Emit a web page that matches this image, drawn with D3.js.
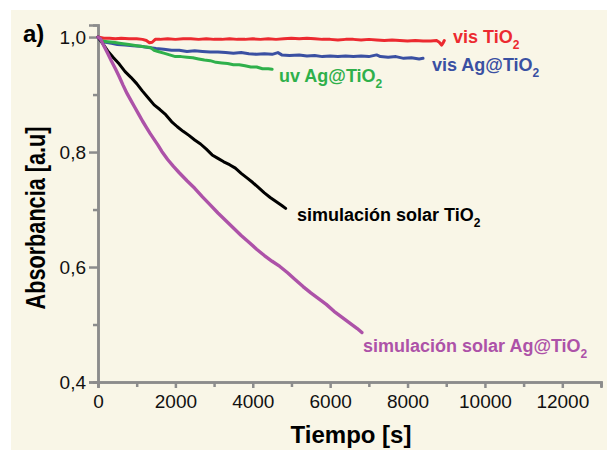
<!DOCTYPE html>
<html>
<head>
<meta charset="utf-8">
<script src="https://cdn.jsdelivr.net/npm/d3@7"></script>
<style>
  body { margin: 0; background: #fff; }
  svg text { font-family: "Liberation Sans", Arial, sans-serif; }
</style>
</head>
<body>
<div id="chart"></div>
<script>
// [tiempo (s), absorbancia]
var visTiO2 = [[0,1.000],[150,0.998],[300,0.998],[450,0.997],[600,0.998],[800,0.997],[1000,0.997],[1150,0.996],[1250,0.994],[1330,0.990],[1400,0.991],[1480,0.996],[1600,0.996],[1800,0.997],[2000,0.996],[2200,0.997],[2400,0.997],[2600,0.996],[2800,0.997],[3000,0.996],[3200,0.996],[3400,0.997],[3600,0.996],[3800,0.996],[4000,0.997],[4200,0.996],[4400,0.997],[4600,0.996],[4800,0.997],[5000,0.998],[5200,0.997],[5400,0.998],[5600,0.997],[5800,0.996],[6000,0.996],[6200,0.995],[6400,0.996],[6600,0.996],[6800,0.995],[7000,0.996],[7200,0.995],[7400,0.994],[7600,0.995],[7800,0.994],[8000,0.993],[8200,0.994],[8400,0.993],[8600,0.993],[8750,0.994],[8820,0.991],[8880,0.986],[8920,0.990],[8950,0.994]];
var visAgTiO2 = [[0,1.000],[60,0.994],[200,0.991],[350,0.989],[500,0.987],[700,0.986],[900,0.985],[1100,0.984],[1300,0.982],[1500,0.980],[1700,0.979],[1900,0.977],[2100,0.977],[2300,0.975],[2500,0.976],[2700,0.975],[2900,0.974],[3100,0.974],[3300,0.973],[3500,0.972],[3700,0.973],[3900,0.971],[4100,0.970],[4300,0.971],[4500,0.970],[4650,0.973],[4750,0.969],[4950,0.968],[5200,0.969],[5400,0.967],[5600,0.968],[5800,0.966],[6000,0.967],[6200,0.966],[6400,0.967],[6600,0.966],[6800,0.967],[7000,0.966],[7200,0.969],[7300,0.966],[7500,0.965],[7700,0.966],[7900,0.963],[8100,0.964],[8300,0.962],[8400,0.963]];
var uvAgTiO2 = [[0,1.000],[100,0.993],[250,0.992],[400,0.991],[600,0.989],[800,0.987],[1000,0.985],[1200,0.983],[1350,0.982],[1450,0.977],[1550,0.975],[1700,0.972],[1850,0.969],[2000,0.966],[2150,0.966],[2300,0.965],[2450,0.964],[2600,0.962],[2750,0.960],[2900,0.959],[3050,0.956],[3200,0.955],[3350,0.954],[3500,0.952],[3650,0.952],[3800,0.950],[3950,0.948],[4100,0.948],[4250,0.945],[4400,0.945],[4500,0.944]];
var solarTiO2 = [[0,1.000],[100,0.991],[250,0.976],[400,0.964],[550,0.953],[700,0.940],[850,0.930],[1000,0.919],[1150,0.906],[1300,0.894],[1450,0.882],[1600,0.874],[1750,0.865],[1900,0.853],[2050,0.844],[2200,0.836],[2350,0.829],[2500,0.821],[2650,0.814],[2800,0.805],[2950,0.795],[3100,0.789],[3250,0.783],[3400,0.778],[3550,0.772],[3700,0.763],[3850,0.755],[4000,0.747],[4150,0.738],[4300,0.729],[4450,0.721],[4600,0.714],[4750,0.707],[4850,0.702]];
var solarAgTiO2 = [[0,1.000],[60,0.997],[150,0.985],[250,0.972],[350,0.958],[450,0.945],[550,0.931],[650,0.916],[750,0.902],[850,0.890],[950,0.878],[1050,0.866],[1150,0.854],[1250,0.843],[1350,0.832],[1450,0.822],[1550,0.812],[1650,0.801],[1800,0.787],[1950,0.775],[2100,0.764],[2300,0.750],[2500,0.737],[2700,0.722],[2900,0.708],[3100,0.694],[3300,0.681],[3500,0.668],[3700,0.655],[3900,0.643],[4100,0.631],[4300,0.620],[4500,0.610],[4700,0.601],[4900,0.590],[5100,0.578],[5300,0.566],[5500,0.555],[5700,0.545],[5900,0.535],[6100,0.523],[6300,0.513],[6500,0.503],[6700,0.493],[6820,0.486]];

var xMajor = [0, 2000, 4000, 6000, 8000, 10000, 12000];
var xMinor = [1000, 3000, 5000, 7000, 9000, 11000, 13000];
var yMajor = [0.4, 0.6, 0.8, 1.0];
var yMinor = [0.5, 0.7, 0.9];

var series = [
  { name: "visTiO2", data: visTiO2, color: "#ec2a30", label: ["vis TiO", "2"], lx: 453, ly: 43 },
  { name: "visAgTiO2", data: visAgTiO2, color: "#3a50a2", label: ["vis Ag@TiO", "2"], lx: 432, ly: 71 },
  { name: "uvAgTiO2", data: uvAgTiO2, color: "#2fb04b", label: ["uv Ag@TiO", "2"], lx: 279, ly: 82 },
  { name: "solarTiO2", data: solarTiO2, color: "#000000", label: ["simulación solar TiO", "2"], lx: 297, ly: 221 },
  { name: "solarAgTiO2", data: solarAgTiO2, color: "#ad52a8", label: ["simulación solar Ag@TiO", "2"], lx: 363, ly: 352 }
];

var w = 607, h = 454;
var axisColor = "#8c8c8c";

var svg = d3.select("#chart").append("svg")
  .attr("width", w)
  .attr("height", h);

// fondo crema
svg.append("rect")
  .attr("x", 11).attr("y", 10)
  .attr("width", w - 11).attr("height", 440)
  .attr("fill", "#f9f6e7");

var x = d3.scaleLinear().domain([0, 13000]).range([98, 601]);
var y = d3.scaleLinear().domain([0.4, 1.021]).range([382, 25]);

// eje x
var gx = svg.append("g").attr("transform", "translate(0," + y(0.4) + ")");
gx.call(d3.axisBottom(x).tickValues(xMajor).tickSize(6).tickPadding(7).tickFormat(d3.format("d")));
gx.append("g").call(d3.axisBottom(x).tickValues(xMinor).tickSize(5).tickFormat(""));

// eje y
var gy = svg.append("g").attr("transform", "translate(" + x(0) + ",0)");
gy.call(d3.axisLeft(y).tickValues(yMajor).tickSize(9).tickPadding(3)
  .tickFormat(function(d) { return d3.format(".1f")(d).replace(".", ","); }));
gy.append("g").call(d3.axisLeft(y).tickValues(yMinor).tickSize(5).tickFormat(""));

svg.selectAll(".domain").attr("stroke", axisColor).attr("stroke-width", 2.5);
svg.selectAll(".tick line").attr("stroke", axisColor).attr("stroke-width", 2.5);
svg.selectAll(".tick text")
  .attr("font-family", "Liberation Sans, Arial, sans-serif")
  .attr("font-size", "19px")
  .attr("fill", "#111");
gx.selectAll(".tick text").attr("dy", "0.71em");
gy.selectAll(".tick text").attr("dy", "0.36em");

// curvas
var line = d3.line()
  .x(function(d) { return x(d[0]); })
  .y(function(d) { return y(d[1]); });

svg.selectAll("path.serie")
  .data(series)
  .enter()
  .append("path")
  .attr("class", "serie")
  .attr("d", function(d) { return line(d.data); })
  .attr("fill", "none")
  .attr("stroke", function(d) { return d.color; })
  .attr("stroke-width", function(d) { return d.name === "solarAgTiO2" ? 3.4 : 3; })
  .attr("stroke-linejoin", "round")
  .attr("stroke-linecap", "round");

// etiquetas
var labels = svg.selectAll("text.lbl")
  .data(series)
  .enter()
  .append("text")
  .attr("class", "lbl")
  .attr("x", function(d) { return d.lx; })
  .attr("y", function(d) { return d.ly; })
  .attr("font-size", "18px")
  .attr("font-weight", "bold")
  .attr("fill", function(d) { return d.color; });
labels.append("tspan").text(function(d) { return d.label[0]; });
labels.append("tspan")
  .attr("dy", 6)
  .attr("font-size", "12px")
  .text(function(d) { return d.label[1]; });

// títulos
svg.append("text")
  .attr("x", 351).attr("y", 443)
  .attr("text-anchor", "middle")
  .attr("font-size", "24px")
  .attr("font-weight", "bold")
  .attr("fill", "#000")
  .text("Tiempo [s]");

svg.append("text")
  .attr("transform", "translate(45,218) rotate(-90)")
  .attr("text-anchor", "middle")
  .attr("font-size", "27px")
  .attr("font-weight", "bold")
  .attr("textLength", 183)
  .attr("lengthAdjust", "spacingAndGlyphs")
  .attr("fill", "#000")
  .text("Absorbancia [a.u]");

svg.append("text")
  .attr("x", 23).attr("y", 42)
  .attr("font-size", "24px")
  .attr("font-weight", "bold")
  .attr("fill", "#000")
  .text("a)");
</script>
</body>
</html>
